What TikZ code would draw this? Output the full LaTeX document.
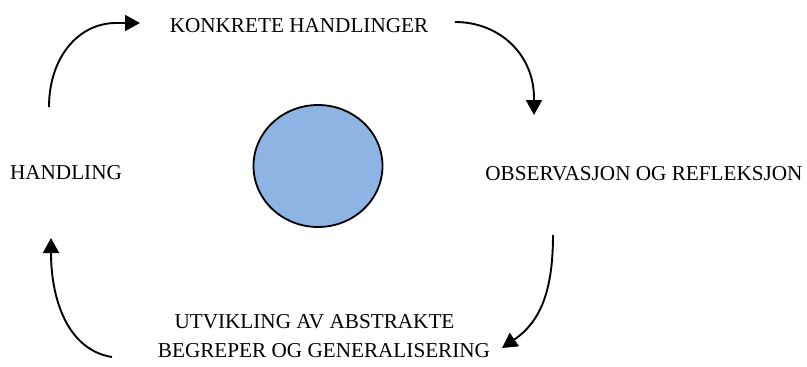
\documentclass[tikz,border=0pt]{standalone}
\usepackage{fontspec}
\setmainfont{Liberation Serif}
\usetikzlibrary{arrows.meta,shapes.geometric}
\definecolor{circfill}{HTML}{8EB4E3}
\tikzset{
  lbl/.style={font=\fontsize{21.2}{24}\selectfont, inner sep=0pt, anchor=center},
  cyc/.style={line width=1.9pt, -{Triangle[length=15pt,width=16pt]}},
}
\begin{document}
\begin{tikzpicture}[x=1pt,y=-1pt]
\useasboundingbox (0,0) rectangle (807,367);
\node[draw=black, line width=1.8pt, fill=circfill, ellipse, minimum width=129pt, minimum height=122pt, inner sep=0pt] (c) at (318,166) {};
\node[lbl] (k) at (299,26) {KONKRETE HANDLINGER};
\node[lbl] (h) at (66,173) {HANDLING};
\node[lbl] (o) at (644,174) {OBSERVASJON OG REFLEKSJON};
\node[lbl] (u) at (314.5,322) {UTVIKLING AV ABSTRAKTE};
\node[lbl] (b) at (324,351) {BEGREPER OG GENERALISERING};
\coordinate (a1s) at (49,107);
\coordinate (a1e) at (140,23);
\coordinate (a2s) at (455,22);
\coordinate (a2e) at (534,115);
\coordinate (a3s) at (553,235);
\coordinate (a3e) at (502,348);
\coordinate (a4s) at (112,357);
\coordinate (a4e) at (51,238);
\draw[cyc] (a1s) .. controls (49,58) and (78,23) .. (116,23) -- (a1e);
\draw[cyc] (a2s) .. controls (500,22) and (534,55) .. (534,98) -- (a2e);
\draw[cyc] (a3s) .. controls (553,292) and (540,322) .. (a3e);
\draw[cyc] (a4s) .. controls (68,350) and (51,300) .. (a4e);
\end{tikzpicture}
\end{document}
